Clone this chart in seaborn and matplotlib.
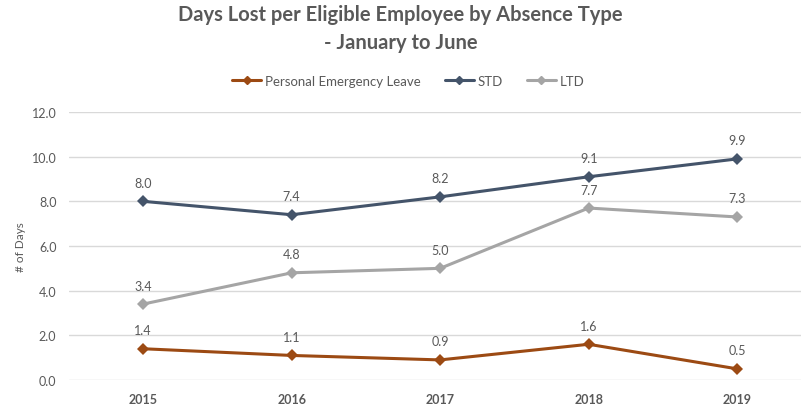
import pandas as pd
import matplotlib
matplotlib.use("Agg")
import matplotlib.pyplot as plt
import seaborn as sns

# Chart data
years = ["2015", "2016", "2017", "2018", "2019"]
pel_days = [1.4, 1.1, 0.9, 1.6, 0.5]
std_days = [8.0, 7.4, 8.2, 9.1, 9.9]
ltd_days = [3.4, 4.8, 5.0, 7.7, 7.3]
series_names = ["Personal Emergency Leave", "STD", "LTD"]
series_colors = ["#9C4A13", "#44546A", "#A5A5A5"]

TEXT_COLOR = "#595959"

def build_frame():
    rows = []
    for name, vals in zip(series_names, [pel_days, std_days, ltd_days]):
        for i, (yr, v) in enumerate(zip(years, vals)):
            rows.append({"pos": i, "year": yr, "days": v, "series": name})
    return pd.DataFrame(rows)

def main():
    sns.set_style("white")
    plt.rcParams["font.family"] = ["Lato", "DejaVu Sans"]

    df = build_frame()
    fig = plt.figure(figsize=(8.01, 4.10), dpi=100)
    ax = fig.add_axes([0.086, 0.0707, 0.914, 0.6537])

    sns.lineplot(data=df, x="pos", y="days", hue="series", hue_order=series_names,
                 palette=series_colors, marker="D", markersize=6, linewidth=2.2,
                 markeredgewidth=0, ax=ax, legend=False)

    # data labels
    for name in series_names:
        sub = df[df["series"] == name]
        for _, r in sub.iterrows():
            ax.annotate(f"{r['days']:.1f}", (r["pos"], r["days"]), xytext=(0, 9),
                        textcoords="offset points", ha="center", va="bottom",
                        fontsize=9, color=TEXT_COLOR)

    ax.set_xlim(-0.5, 4.43)
    ax.set_ylim(0, 12)
    ax.set_yticks([0, 2, 4, 6, 8, 10, 12])
    ax.set_yticklabels([f"{v:.1f}" for v in ax.get_yticks()], fontsize=9, color=TEXT_COLOR)
    ax.set_xticks(range(len(years)))
    ax.set_xticklabels(years, fontsize=9, color=TEXT_COLOR, fontweight="bold")
    ax.tick_params(axis="both", length=0, pad=9)
    ax.grid(axis="y", color="#D9D9D9", linewidth=1)
    ax.set_axisbelow(True)
    for s in ax.spines.values():
        s.set_visible(False)
    ax.set_xlabel("")
    ax.set_ylabel("# of Days", fontsize=8.5, color=TEXT_COLOR, labelpad=4)

    fig.text(0.5, 0.988, "Days Lost per Eligible Employee by Absence Type\n- January to June",
             ha="center", va="top", fontsize=14.5, fontweight="bold", color=TEXT_COLOR,
             linespacing=1.5)

    handles = [plt.Line2D([], [], color=c, marker="D", markersize=4, linewidth=2.2)
               for c in series_colors]
    fig.legend(handles, series_names, loc="center", bbox_to_anchor=(0.51, 0.8),
               ncol=3, frameon=False, fontsize=9.5, labelcolor=TEXT_COLOR,
               handlelength=2.2, handletextpad=0.3, columnspacing=1.8)

    fig.savefig("out.png", dpi=100)
    plt.close(fig)

if __name__ == "__main__":
    main()
